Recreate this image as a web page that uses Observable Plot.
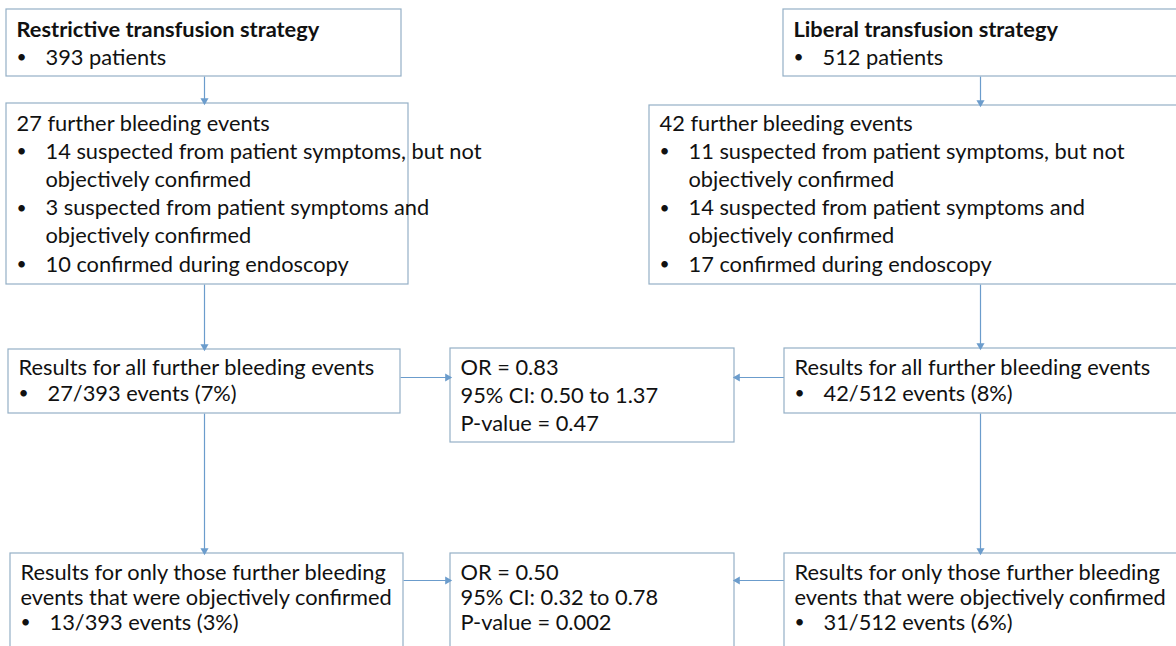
<!DOCTYPE html>
<html>
<head>
<meta charset="utf-8">
<script src="https://cdn.jsdelivr.net/npm/d3@7"></script>
<script src="https://cdn.jsdelivr.net/npm/@observablehq/plot@0.6"></script>
<style>
  html, body { margin: 0; padding: 0; background: #fff; }
  #chart svg { display: block; }
</style>
</head>
<body>
<div id="chart"></div>
<script>
// ---------- Data ----------
const groupTitles = ["Restrictive transfusion strategy", "Liberal transfusion strategy"];
const patients = [393, 512];
const furtherEvents = [27, 42];
const suspectedNotConfirmed = [14, 11];
const suspectedConfirmed = [3, 14];
const confirmedEndoscopy = [10, 17];
const allEventsCount = [27, 42];
const allEventsPct = [7, 8];
const confirmedCount = [13, 31];
const confirmedPct = [3, 6];
const orAll = ["0.83", "0.50 to 1.37", "0.47"];
const orConfirmed = ["0.50", "0.32 to 0.78", "0.002"];

// ---------- Text content per box ----------
function groupBoxes(g) {
  return {
    top: [
      {kind: "title", text: groupTitles[g]},
      {kind: "bullet", text: `${patients[g]} patients`}
    ],
    events: [
      {kind: "plain", text: `${furtherEvents[g]} further bleeding events`},
      {kind: "bullet", text: `${suspectedNotConfirmed[g]} suspected from patient symptoms, but not`},
      {kind: "cont", text: "objectively confirmed"},
      {kind: "bullet", text: `${suspectedConfirmed[g]} suspected from patient symptoms and`},
      {kind: "cont", text: "objectively confirmed"},
      {kind: "bullet", text: `${confirmedEndoscopy[g]} confirmed during endoscopy`}
    ],
    all: [
      {kind: "plain", text: "Results for all further bleeding events"},
      {kind: "bullet", text: `${allEventsCount[g]}/${patients[g]} events (${allEventsPct[g]}%)`}
    ],
    confirmed: [
      {kind: "plain", text: "Results for only those further bleeding"},
      {kind: "plain", text: "events that were objectively confirmed"},
      {kind: "bullet", text: `${confirmedCount[g]}/${patients[g]} events (${confirmedPct[g]}%)`}
    ]
  };
}
const L = groupBoxes(0), R = groupBoxes(1);
const statLines = s => [
  {kind: "plain", text: `OR = ${s[0]}`},
  {kind: "plain", text: `95% CI: ${s[1]}`},
  {kind: "plain", text: `P-value = ${s[2]}`}
];

// ---------- Layout (positions only) ----------
const layout = [
  {lines: L.top,        x1: 6,   x2: 401,  y1: 9,   y2: 76,  first: 29,  step: 28},
  {lines: L.events,     x1: 6,   x2: 408,  y1: 103, y2: 284, first: 123, step: 28.2},
  {lines: L.all,        x1: 8,   x2: 400,  y1: 349, y2: 413, first: 367, step: 26},
  {lines: L.confirmed,  x1: 10,  x2: 403,  y1: 553, y2: 700, first: 572, step: 25},
  {lines: R.top,        x1: 783, x2: 1200, y1: 9,   y2: 76,  first: 29,  step: 28},
  {lines: R.events,     x1: 649, x2: 1200, y1: 105, y2: 284, first: 123, step: 28.2},
  {lines: R.all,        x1: 784, x2: 1200, y1: 348, y2: 413, first: 367, step: 26},
  {lines: R.confirmed,  x1: 784, x2: 1200, y1: 553, y2: 700, first: 572, step: 25},
  {lines: statLines(orAll),       x1: 450, x2: 734, y1: 348, y2: 442, first: 367, step: 28},
  {lines: statLines(orConfirmed), x1: 450, x2: 734, y1: 553, y2: 700, first: 572, step: 25}
];
const arrows = [
  {x1: 204, y1: 76,  x2: 204, y2: 103, dir: "down"},
  {x1: 204, y1: 284, x2: 204, y2: 349, dir: "down"},
  {x1: 204, y1: 413, x2: 204, y2: 553, dir: "down"},
  {x1: 980, y1: 76,  x2: 980, y2: 105, dir: "down"},
  {x1: 980, y1: 284, x2: 980, y2: 348, dir: "down"},
  {x1: 980, y1: 413, x2: 980, y2: 553, dir: "down"},
  {x1: 400, y1: 377, x2: 450, y2: 377, dir: "right"},
  {x1: 784, y1: 377, x2: 734, y2: 377, dir: "left"},
  {x1: 403, y1: 580, x2: 450, y2: 580, dir: "right"},
  {x1: 784, y1: 580, x2: 734, y2: 580, dir: "left"}
];

// ---------- Build text rows ----------
const rows = [];
for (const b of layout) {
  b.lines.forEach((ln, i) => {
    const y = b.first + i * b.step;
    const indent = (ln.kind === "bullet" || ln.kind === "cont");
    rows.push({x: b.x1 + (indent ? 39 : 10), y, text: ln.text, kind: ln.kind});
    if (ln.kind === "bullet") rows.push({x: b.x1 + 15, y, text: "•", kind: "dot"});
  });
}
const heads = arrows.map(a => ({
  x: a.x2 - (a.dir === "right" ? 3 : a.dir === "left" ? -3 : 0),
  y: a.y2 - (a.dir === "down" ? 3 : 0),
  rot: a.dir === "down" ? 180 : a.dir === "right" ? 90 : -90
}));

// ---------- Font size fitted to look ----------
const FONT = "Lato, 'Open Sans', sans-serif";
const ctx = document.createElement("canvas").getContext("2d");
ctx.font = `20px ${FONT}`;
const w = ctx.measureText("Results for all further bleeding events").width;
const fs = Math.max(14, Math.min(22, 20 * 357 / w));

const lineColor = "#6b9ccc";
const boxColor = "#94b0c6";

const plot = Plot.plot({
  width: 1176,
  height: 646,
  margin: 0,
  x: {domain: [0, 1176], range: [0, 1176], axis: null},
  y: {domain: [0, 646], range: [0, 646], axis: null},
  style: {fontFamily: FONT, background: "#fff"},
  marks: [
    Plot.link(arrows, {x1: "x1", y1: "y1", x2: "x2", y2: "y2", stroke: lineColor, strokeWidth: 1.2}),
    Plot.rect(layout, {x1: "x1", x2: "x2", y1: "y1", y2: "y2", fill: "#fff", stroke: boxColor, strokeWidth: 1.2}),
    Plot.dot(heads, {x: "x", y: "y", rotate: "rot", symbol: "triangle", r: 3, fill: lineColor, stroke: "none"}),
    Plot.text(rows.filter(d => d.kind === "title"), {x: "x", y: "y", text: "text", textAnchor: "start", fontSize: fs, fontWeight: "bold", fill: "#111"}),
    Plot.text(rows.filter(d => d.kind !== "title" && d.kind !== "dot"), {x: "x", y: "y", text: "text", textAnchor: "start", fontSize: fs, fill: "#111"}),
    Plot.text(rows.filter(d => d.kind === "dot"), {x: "x", y: "y", text: "text", textAnchor: "middle", fontSize: fs * 0.8, fill: "#111"})
  ]
});
document.getElementById("chart").appendChild(plot);
</script>
</body>
</html>
